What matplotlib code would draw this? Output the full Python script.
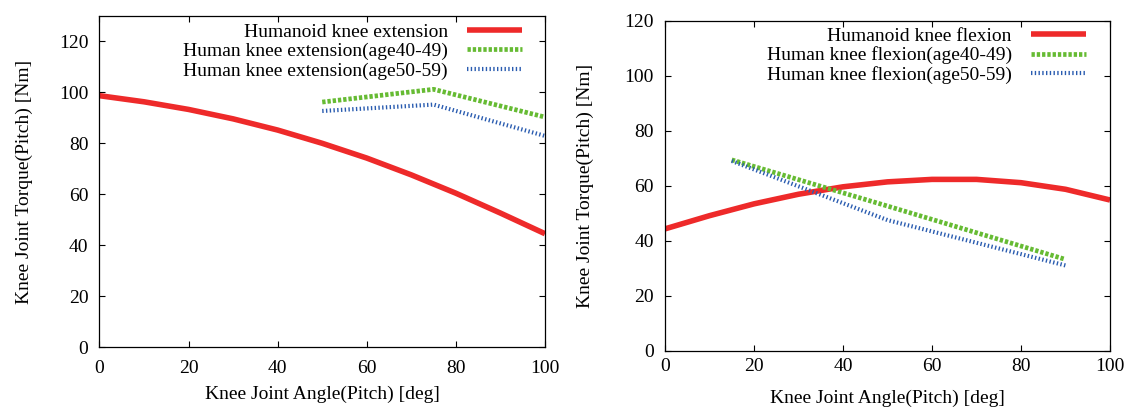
import matplotlib
matplotlib.use("Agg")
import matplotlib.pyplot as plt

plt.rcParams['font.family'] = ['Liberation Serif', 'DejaVu Serif']
plt.rcParams['font.size'] = 14
plt.rcParams['lines.scale_dashes'] = False

# knee extension (left)
ext_angle = [0, 10, 20, 30, 40, 50, 60, 70, 80, 90, 100]
ext_humanoid = [98.7, 96.3, 93.3, 89.6, 85.2, 80.0, 74.2, 67.6, 60.4, 52.6, 44.5]
ext_human_angle = [50, 75, 100]
ext_age40 = [96.2, 101.2, 90.3]
ext_age50 = [92.7, 95.2, 82.9]

# knee flexion (right)
flx_angle = [0, 10, 20, 30, 40, 50, 60, 70, 80, 90, 100]
flx_humanoid = [44.3, 49.1, 53.4, 56.9, 59.6, 61.4, 62.3, 62.3, 61.1, 58.7, 54.8]
flx_human_angle = [15, 50, 90]
flx_age40 = [69.4, 52.6, 33.2]
flx_age50 = [69.0, 47.5, 31.0]

RED = '#ee2a2a'
GREEN = '#66bb33'
BLUE = '#2a5cb0'

fig = plt.figure(figsize=(11.29, 4.11), dpi=100)
ax1 = fig.add_axes([0.0881, 0.1557, 0.3946, 0.8054])
ax2 = fig.add_axes([0.589, 0.1467, 0.3942, 0.8029])


def draw(ax, x, hum, hx, a40, a50, kind, ytop, xpad, ylab_x, leg_anchor):
    ax.plot(x, hum, color=RED, lw=4.0, solid_capstyle='butt',
            solid_joinstyle='round', label='Humanoid knee ' + kind)
    ax.plot(hx, a40, color=GREEN, lw=3.4, dashes=(2.4, 1.4),
            label='Human knee ' + kind + '(age40-49)')
    ax.plot(hx, a50, color=BLUE, lw=3.0, dashes=(1.0, 1.7),
            label='Human knee ' + kind + '(age50-59)')
    ax.set_xlim(0, 100)
    ax.set_ylim(0, ytop)
    ax.set_xticks(range(0, 101, 20))
    ax.set_yticks(range(0, 121, 20))
    ax.tick_params(direction='in', length=4.3, width=0.8, top=True, right=True,
                   labelsize=14)
    ax.tick_params(axis='x', pad=xpad)
    ax.tick_params(axis='y', pad=8)
    for s in ax.spines.values():
        s.set_linewidth(0.9)
    ax.set_xlabel('Knee Joint Angle(Pitch) [deg]', fontsize=14)
    ax.set_ylabel('Knee Joint Torque(Pitch) [Nm]', fontsize=14)
    ax.xaxis.set_label_coords(0.5, -0.117)
    ax.yaxis.set_label_coords(ylab_x, 0.5)
    ax.legend(loc='upper right', bbox_to_anchor=leg_anchor, frameon=False,
              markerfirst=False, handlelength=2.8, handletextpad=1.0,
              labelspacing=0.1, borderaxespad=0, borderpad=0, fontsize=14)


draw(ax1, ext_angle, ext_humanoid, ext_human_angle, ext_age40, ext_age50,
     'extension', 130, 9.5, -0.149, (0.948, 0.979))
draw(ax2, flx_angle, flx_humanoid, flx_human_angle, flx_age40, flx_age50,
     'flexion', 120, 5.5, -0.160, (0.945, 0.981))

fig.savefig('out.png', dpi=100)
